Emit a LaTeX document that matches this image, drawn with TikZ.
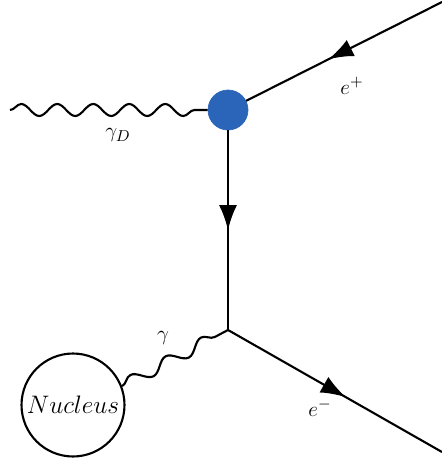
\documentclass[tikz,border=0pt]{standalone}
\usepackage{tikz}
\usetikzlibrary{arrows.meta,decorations.pathmorphing,decorations.markings}
\definecolor{blobblue}{HTML}{2B65B9}

\begin{document}
\begin{tikzpicture}[x=0.02cm, y=-0.02cm,
        fermion/.style={line width=1.2pt, postaction={decorate},
          decoration={markings, mark=at position #1 with {\arrow{Latex[length=5mm,width=3.6mm]}}}},
        photon/.style={line width=1.2pt, decorate,
          decoration={snake, segment length=#1, amplitude=0.12cm}},
        lbl/.style={font=\fontsize{13pt}{15pt}\selectfont}]
      \useasboundingbox (0,0) rectangle (442,460);
      \node[circle, fill=blobblue, draw=blobblue, minimum size=0.8cm, inner sep=0] (blob) at (228,110) {};
      \node[circle, draw, line width=1.2pt, minimum size=2.06cm, inner sep=0, font=\fontsize{14.5pt}{16pt}\selectfont] (nuc) at (73,405) {$Nucleus$};
      \coordinate (gin) at (10,110);
      \coordinate (vtx) at (228,330);
      \coordinate (pin) at (442,2);
      \coordinate (eout) at (442,452);
      \draw[photon=0.72cm] (gin) -- (blob.west);
      \draw[fermion=0.58] (pin) -- (blob);
      \draw[fermion=0.5] (blob.south) -- (vtx);
      \draw[fermion=0.55] (vtx) -- (eout);
      \draw[photon=0.8cm] (nuc.21) -- (vtx);
      \node[lbl] (lgd) at (118,135) {$\gamma_D$};
      \node[lbl] (lep) at (352,86) {$e^+$};
      \node[lbl] (lem) at (320,408) {$e^-$};
      \node[lbl] (lg) at (163,338) {$\gamma$};
      \end{tikzpicture}
\end{document}
